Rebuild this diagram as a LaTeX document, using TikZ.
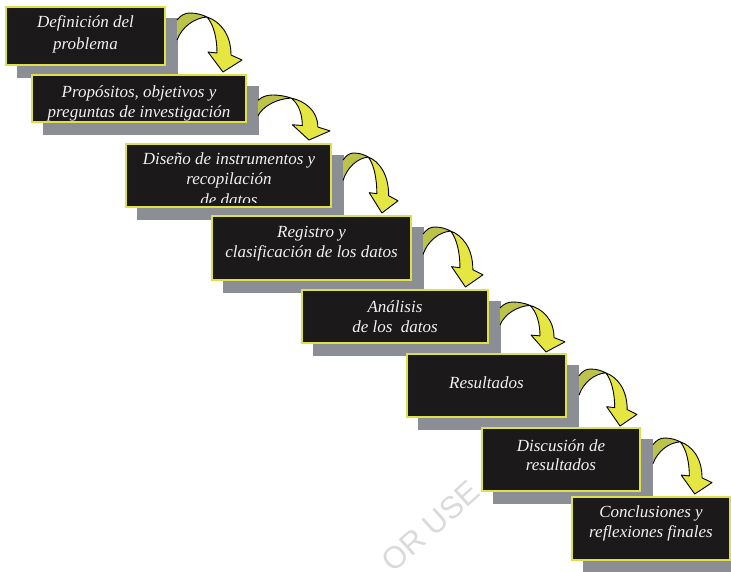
\documentclass[tikz,border=0pt]{standalone}
\usepackage{fontspec}
\setmainfont{Liberation Serif}
\newfontfamily\markfont{Liberation Sans}

\definecolor{boxfill}{RGB}{28,25,26}
\definecolor{boxline}{RGB}{222,224,72}
\definecolor{shadowgray}{RGB}{139,142,148}
\definecolor{arrowlight}{RGB}{229,230,66}
\definecolor{arrowdark}{RGB}{188,195,74}
\definecolor{labeltext}{RGB}{242,242,242}
\definecolor{markgray}{RGB}{218,218,218}

% one stage: drop shadow first, then the framed black panel
\newcommand\stepframe[4]{%
  \fill[shadowgray] (#1+11.5,#2+11.5) rectangle (#3+11.5,#4+11.5);
  \filldraw[stepbox] (#1+0.8,#2+0.8) rectangle (#3-0.8,#4-0.8);}

\tikzset{
  stepbox/.style={fill=boxfill, draw=boxline, line width=1.6pt},
  steptext/.style={text=labeltext, font=\fontsize{17}{20}\selectfont\itshape,
    inner sep=0pt, anchor=base},
  wmark/.style={text=markgray, font=\markfont\fontsize{31}{31}\selectfont,
    inner sep=0pt, rotate=42},
  % curled ribbon arrow: darker back face, twist, bright front face with head
  curlarrow/.pic={
    \fill[arrowdark] (0,7) .. controls (4,2) and (8,0) .. (13,0)
      .. controls (20,0) and (26,2) .. (30,4)
      .. controls (17,5) and (5,14) .. (0,27) -- cycle;
    \fill[arrowlight] (30,4) .. controls (42,8) and (54,20) .. (54,42)
      -- (65,47) -- (46,59) -- (31,39) -- (40,40)
      .. controls (40,26) and (37,12) .. (30,4) -- cycle;
    \draw[black, line width=0.9pt, line join=round]
      (0,7) .. controls (4,2) and (8,0) .. (13,0)
      .. controls (20,0) and (26,2) .. (30,4)
      .. controls (42,8) and (54,20) .. (54,42)
      -- (65,47) -- (46,59) -- (31,39) -- (40,40)
      .. controls (40,26) and (37,12) .. (30,4)
      .. controls (17,5) and (5,14) .. (0,27);
  }
}

\begin{document}
\begin{tikzpicture}[x=1pt,y=-1pt]
\useasboundingbox (0,0) rectangle (731,571);
\fill[white] (0,0) rectangle (731,571);

% faint diagonal mark behind the stages
\node[wmark] (wm1) at (404,550) {OR};
\node[wmark] (wm2) at (451,508) {USE};

% 1
\stepframe{5}{6}{166}{66}
\node[steptext] (t1a) at (85.5,27.5) {Definición del};
\node[steptext] (t1b) at (85.5,49) {problema};
% 2
\stepframe{31}{74}{247}{123}
\node[steptext] (t2a) at (139,97) {Propósitos, objetivos y};
\node[steptext] (t2b) at (139,117) {preguntas de investigación};
% 3
\stepframe{125}{143}{332}{208}
\node[steptext] (t3a) at (229,164) {Diseño de instrumentos y};
\node[steptext] (t3b) at (229,184) {recopilación};
\begin{scope}
  \clip (126,144) rectangle (331,202);
  \node[steptext] (t3c) at (229,205) {de datos};
\end{scope}
% 4
\stepframe{211}{215}{412}{281}
\node[steptext] (t4a) at (311.5,237) {Registro y};
\node[steptext] (t4b) at (311.5,257) {clasificación de los datos};
% 5
\stepframe{301}{289}{489}{344}
\node[steptext] (t5a) at (395,312) {Análisis};
\node[steptext] (t5b) at (395,332) {de los\ \ datos};
% 6
\stepframe{406}{353}{567}{418}
\node[steptext] (t6a) at (486.5,388) {Resultados};
% 7
\stepframe{481}{427}{641}{492}
\node[steptext] (t7a) at (561,451) {Discusión de};
\node[steptext] (t7b) at (561,470) {resultados};
% 8
\stepframe{571}{496}{730.5}{561}
\node[steptext] (t8a) at (651,517) {Conclusiones y};
\node[steptext] (t8b) at (651,537) {reflexiones finales};

% curled arrows leading from each stage to the next
\pic (a1) [xscale=1.00,  yscale=1.00]  at (177,13)  {curlarrow};
\pic (a2) [xscale=1.108, yscale=0.763] at (258,95)  {curlarrow};
\pic (a3) [xscale=0.846, yscale=1.017] at (343,153) {curlarrow};
\pic (a4) [xscale=0.923, yscale=1.017] at (423,227) {curlarrow};
\pic (a5) [xscale=1.00,  yscale=0.847] at (500,302) {curlarrow};
\pic (a6) [xscale=0.892, yscale=0.966] at (579,369) {curlarrow};
\pic (a7) [xscale=0.908, yscale=0.949] at (653,438) {curlarrow};
\end{tikzpicture}
\end{document}
